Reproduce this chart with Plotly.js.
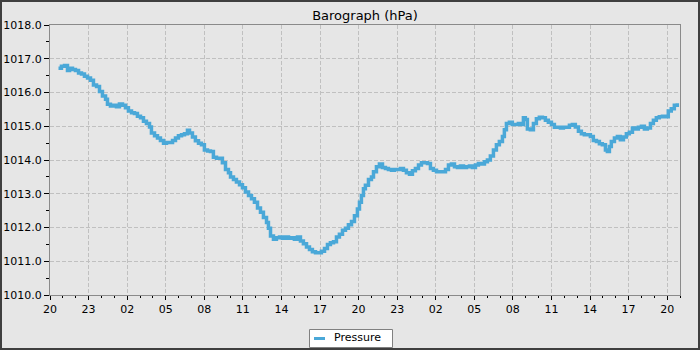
<!DOCTYPE html>
<html>
<head>
<meta charset="utf-8">
<script src="https://cdn.plot.ly/plotly-3.0.1.min.js"></script>
<style>
  html, body { margin: 0; padding: 0; width: 700px; height: 350px; background: #3f3f3f; overflow: hidden; }
  #chart { position: absolute; left: 2px; top: 2px; width: 696px; height: 346px; }
</style>
</head>
<body>
<div id="chart"></div>
<script>
// Hours since 20:00 on the first day
const hours = [
  0.66, 0.89, 1.13, 1.36, 1.52, 1.75, 1.98, 2.22, 2.45, 2.68, 2.92, 3.15, 3.38, 3.62, 3.85, 4.08, 4.32, 4.47, 4.70, 4.94,
  5.17, 5.40, 5.64, 5.87, 6.10, 6.34, 6.57, 6.80, 7.04, 7.27, 7.50, 7.74, 7.89, 8.13, 8.36, 8.59, 8.83, 9.06, 9.29, 9.53,
  9.76, 9.99, 10.23, 10.46, 10.69, 10.85, 11.08, 11.31, 11.55, 11.78, 12.01, 12.25, 12.48, 12.71, 12.95, 13.18, 13.41, 13.65, 13.88, 14.04,
  14.27, 14.50, 14.74, 14.97, 15.20, 15.44, 15.67, 15.90, 16.14, 16.37, 16.60, 16.84, 16.99, 17.15, 17.38, 17.61, 17.85, 18.08, 18.31, 18.55,
  18.78, 19.01, 19.25, 19.48, 19.71, 19.95, 20.18, 20.41, 20.65, 20.88, 21.11, 21.35, 21.58, 21.81, 22.05, 22.28, 22.51, 22.75, 22.98, 23.21,
  23.45, 23.68, 23.91, 24.07, 24.22, 24.38, 24.53, 24.77, 25.00, 25.16, 25.39, 25.62, 25.86, 26.09, 26.32, 26.56, 26.79, 27.02, 27.26, 27.49,
  27.72, 27.96, 28.19, 28.42, 28.66, 28.89, 29.12, 29.36, 29.59, 29.82, 30.06, 30.29, 30.52, 30.76, 30.99, 31.22, 31.46, 31.69, 31.92, 32.16,
  32.39, 32.62, 32.85, 33.09, 33.32, 33.55, 33.79, 34.02, 34.25, 34.49, 34.72, 34.95, 35.19, 35.34, 35.50, 35.73, 35.96, 36.20, 36.43, 36.66,
  36.82, 36.97, 37.13, 37.36, 37.60, 37.83, 38.06, 38.30, 38.53, 38.76, 39.00, 39.23, 39.46, 39.70, 39.93, 40.16, 40.40, 40.63, 40.86, 41.10,
  41.33, 41.56, 41.80, 42.03, 42.26, 42.50, 42.73, 42.96, 43.20, 43.35, 43.51, 43.66, 43.90, 44.13, 44.36, 44.60, 44.83, 45.06, 45.30, 45.53,
  45.76, 46.00, 46.23, 46.46, 46.70, 46.93, 47.16, 47.39, 47.63, 47.86, 48.09, 48.32, 48.56, 48.79
];
const pressure = [
  1016.72, 1016.78, 1016.80, 1016.65, 1016.72, 1016.68, 1016.65, 1016.58, 1016.55, 1016.48, 1016.43, 1016.36, 1016.22, 1016.18, 1016.03, 1015.90, 1015.80, 1015.65, 1015.60, 1015.62,
  1015.58, 1015.66, 1015.62, 1015.55, 1015.45, 1015.40, 1015.38, 1015.30, 1015.25, 1015.15, 1015.08, 1014.98, 1014.80, 1014.72, 1014.65, 1014.58, 1014.50, 1014.52, 1014.52, 1014.58,
  1014.65, 1014.72, 1014.75, 1014.78, 1014.88, 1014.80, 1014.68, 1014.57, 1014.50, 1014.45, 1014.30, 1014.27, 1014.25, 1014.08, 1014.05, 1014.05, 1013.92, 1013.72, 1013.62, 1013.50,
  1013.42, 1013.35, 1013.27, 1013.18, 1013.05, 1012.95, 1012.85, 1012.75, 1012.58, 1012.45, 1012.30, 1012.15, 1011.98, 1011.75, 1011.65, 1011.70, 1011.72, 1011.68, 1011.72, 1011.68,
  1011.70, 1011.65, 1011.72, 1011.60, 1011.52, 1011.42, 1011.35, 1011.28, 1011.25, 1011.25, 1011.30, 1011.38, 1011.50, 1011.55, 1011.58, 1011.72, 1011.80, 1011.92, 1011.98, 1012.08,
  1012.18, 1012.35, 1012.55, 1012.75, 1012.95, 1013.15, 1013.25, 1013.42, 1013.50, 1013.65, 1013.80, 1013.88, 1013.78, 1013.75, 1013.72, 1013.70, 1013.72, 1013.72, 1013.75, 1013.70,
  1013.62, 1013.58, 1013.68, 1013.75, 1013.85, 1013.92, 1013.92, 1013.90, 1013.75, 1013.70, 1013.65, 1013.65, 1013.65, 1013.72, 1013.85, 1013.88, 1013.80, 1013.78, 1013.82, 1013.78,
  1013.80, 1013.82, 1013.78, 1013.85, 1013.90, 1013.88, 1013.95, 1014.00, 1014.12, 1014.30, 1014.45, 1014.55, 1014.70, 1014.90, 1015.08, 1015.12, 1015.05, 1015.05, 1015.08, 1015.05,
  1015.25, 1015.20, 1014.92, 1014.90, 1015.08, 1015.22, 1015.27, 1015.25, 1015.18, 1015.12, 1015.05, 1014.97, 1014.97, 1014.95, 1014.97, 1014.97, 1015.03, 1015.05, 1014.98, 1014.85,
  1014.78, 1014.75, 1014.75, 1014.70, 1014.58, 1014.55, 1014.48, 1014.45, 1014.30, 1014.25, 1014.40, 1014.55, 1014.65, 1014.70, 1014.60, 1014.68, 1014.78, 1014.82, 1014.95, 1014.92,
  1014.97, 1015.00, 1014.92, 1014.95, 1015.08, 1015.18, 1015.25, 1015.28, 1015.30, 1015.28, 1015.45, 1015.52, 1015.62, 1015.68
];
const tickHours = [0, 3, 6, 9, 12, 15, 18, 21, 24, 27, 30, 33, 36, 39, 42, 45, 48];
const tickLabels = ['20', '23', '02', '05', '08', '11', '14', '17', '20', '23', '02', '05', '08', '11', '14', '17', '20'];
const seriesName = 'Pressure';
const chartTitle = 'Barograph (hPa)';

const font = 'DejaVu Sans, sans-serif';
const lineColor = '#4aa8d8';
const trace = {
  x: hours, y: pressure, type: 'scatter', mode: 'lines', name: seriesName,
  line: { color: lineColor, width: 3.5, shape: 'hv' }, showlegend: false
};

// plot area in div pixels: left 48, width 630, bottom 293, height 270
const px = v => (v - 48) / 630;
const py = v => (293 - v) / 270;

const layout = {
  width: 696, height: 346,
  margin: { l: 48, r: 18, t: 23, b: 53, pad: 0, autoexpand: false },
  paper_bgcolor: '#e6e6e6', plot_bgcolor: '#e6e6e6',
  font: { family: font, size: 11, color: '#000' },
  title: { text: chartTitle, font: { family: font, size: 13, color: '#000' }, x: 0.5, xanchor: 'center', xref: 'paper', y: 1 - 13 / 346, yanchor: 'middle', yref: 'container' },
  xaxis: {
    range: [0, 49], tickmode: 'array', tickvals: tickHours, ticktext: tickLabels,
    ticks: 'outside', ticklen: 4, tickcolor: '#000', tickwidth: 1,
    showline: true, linecolor: '#8a8a8a', linewidth: 1, mirror: true,
    showgrid: true, gridcolor: '#c0c0c0', griddash: '4px,2px', gridwidth: 1,
    zeroline: false, tickfont: { family: font, size: 11, color: '#000' },
    minor: { tickmode: 'linear', tick0: 0, dtick: 1, ticks: 'outside', ticklen: 2, tickcolor: '#000', showgrid: false }
  },
  yaxis: {
    range: [1010, 1018], tickmode: 'linear', tick0: 1010, dtick: 1, tickformat: '.1f',
    ticks: 'outside', ticklen: 5, tickcolor: '#000', tickwidth: 1,
    showline: true, linecolor: '#8a8a8a', linewidth: 1, mirror: true,
    showgrid: true, gridcolor: '#c0c0c0', griddash: '4px,2px', gridwidth: 1,
    zeroline: false, tickfont: { family: font, size: 11, color: '#000' },
    minor: { tickmode: 'linear', tick0: 1010, dtick: 0.5, ticks: 'outside', ticklen: 3, tickcolor: '#000', showgrid: false }
  },
  showlegend: false,
  shapes: [
    { type: 'rect', xref: 'paper', yref: 'paper', x0: px(307.5), x1: px(390.5), y0: py(345.5), y1: py(327.5),
      fillcolor: '#ffffff', line: { color: '#808080', width: 1 } },
    { type: 'line', xref: 'paper', yref: 'paper', x0: px(312), x1: px(323), y0: py(336.5), y1: py(336.5),
      line: { color: lineColor, width: 3 } }
  ],
  annotations: [
    { text: seriesName, xref: 'paper', yref: 'paper', x: px(331), y: py(335.5), xanchor: 'left', yanchor: 'middle',
      showarrow: false, borderpad: 0, font: { family: font, size: 11, color: '#000' } }
  ]
};
Plotly.newPlot('chart', [trace], layout, { displayModeBar: false, staticPlot: true });
</script>
</body>
</html>
